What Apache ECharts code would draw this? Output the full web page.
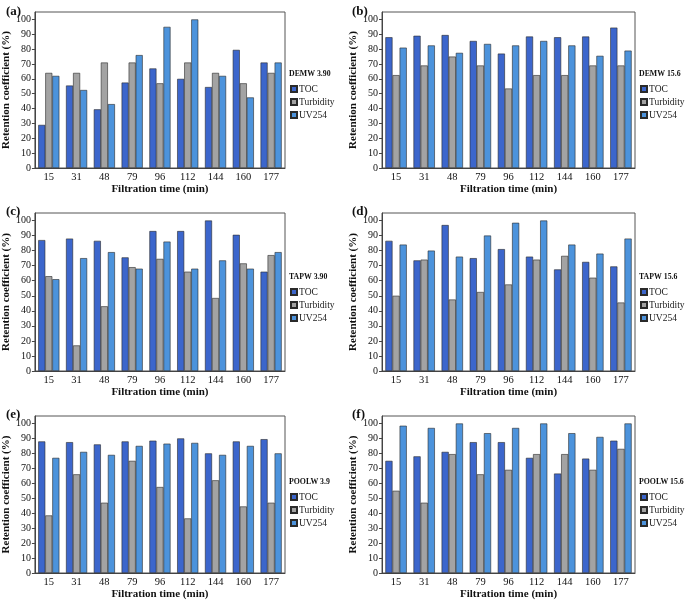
<!DOCTYPE html>
<html>
<head>
<meta charset="utf-8">
<title>Retention coefficient</title>
<script src="https://cdn.jsdelivr.net/npm/echarts@6/dist/echarts.min.js"></script>
<style>
  html, body { margin: 0; padding: 0; background: #fff; }
  #chart { width: 685px; height: 602px; }
</style>
</head>
<body>
<div id="chart"></div>
<script>
// filtration times (min)
var times = ['15', '31', '48', '79', '96', '112', '144', '160', '177'];
var yTicks = [0, 10, 20, 30, 40, 50, 60, 70, 80, 90, 100];

// (a) DEMW 3.90
var tocA  = [29, 55.5, 39.5, 57.5, 67, 60, 54.5, 79.5, 71];
var turbA = [64, 64, 71, 71, 57, 71, 64, 57, 64];
var uvA   = [62, 52.5, 43, 76, 95, 100, 62, 47.5, 71];
// (b) DEMW 15.6
var tocB  = [88, 89, 89.5, 85.5, 77, 88.5, 88, 88.5, 94.5];
var turbB = [62.5, 69, 75, 69, 53.5, 62.5, 62.5, 69, 69];
var uvB   = [81, 82.5, 77.5, 83.5, 82.5, 85.5, 82.5, 75.5, 79];
// (c) TAPW 3.90
var tocC  = [87, 88, 86.5, 75.5, 93, 93, 100, 90.5, 66];
var turbC = [63, 17, 43, 69, 74.5, 66, 48.5, 71.5, 77];
var uvC   = [61, 75, 79, 68, 86, 68, 73.5, 68, 79];
// (d) TAPW 15.6
var tocD  = [86.5, 73.5, 97, 75, 81, 76, 67.5, 72.5, 69.5];
var turbD = [50, 74, 47.5, 52.5, 57.5, 74, 76.5, 62, 45.5];
var uvD   = [84, 80, 76, 90, 98.5, 100, 84, 78, 88];
// (e) POOLW 3.9
var tocE  = [88, 87.5, 86, 88, 88.5, 90, 80, 88, 89.5];
var turbE = [38.5, 66, 47, 75, 57.5, 36.5, 62, 44.5, 47];
var uvE   = [77, 81, 79, 85, 86.5, 87, 79, 85, 80];
// (f) POOLW 15.6
var tocF  = [75, 78, 81, 87.5, 87.5, 77, 66.5, 76.5, 88.5];
var turbF = [55, 47, 79.5, 66, 69, 79.5, 79.5, 69, 83];
var uvF   = [98.5, 97, 100, 93.5, 97, 100, 93.5, 91, 100];

var seriesNames = ['TOC', 'Turbidity', 'UV254'];
var colors = ['#3c66cc', '#a3a3a3', '#4c93dc'];

var panels = [
  { tag: '(a)', label: 'DEMW 3.90',  data: [tocA, turbA, uvA] },
  { tag: '(b)', label: 'DEMW 15.6',  data: [tocB, turbB, uvB] },
  { tag: '(c)', label: 'TAPW 3.90',  data: [tocC, turbC, uvC] },
  { tag: '(d)', label: 'TAPW 15.6',  data: [tocD, turbD, uvD] },
  { tag: '(e)', label: 'POOLW 3.9',  data: [tocE, turbE, uvE] },
  { tag: '(f)', label: 'POOLW 15.6', data: [tocF, turbF, uvF] }
];

// layout
var colLeft = [32, 382];
var rowTop = [12, 213, 416];
var rowH = [156, 158, 157];
var plotW = 253;
var legendTitleY = [70, 273, 478];
var serif = 'Liberation Serif';

var option = {
  backgroundColor: '#fff',
  animation: false,
  title: [], grid: [], xAxis: [], yAxis: [], legend: [], series: []
};

panels.forEach(function (p, i) {
  var col = i % 2, row = Math.floor(i / 2);
  var left = colLeft[col], top = rowTop[row], h = rowH[row];

  option.grid.push({
    left: left, top: top, width: plotW, height: h,
    show: true, borderColor: '#555', borderWidth: 1, backgroundColor: '#fff'
  });
  option.xAxis.push({
    type: 'category', gridIndex: i, data: times,
    name: 'Filtration time (min)', nameLocation: 'middle', nameGap: 16,
    nameTextStyle: { fontFamily: serif, fontWeight: 'bold', fontSize: 11, color: '#111' },
    axisLine: { lineStyle: { color: '#444' } },
    axisTick: { length: 3, lineStyle: { color: '#444' } },
    axisLabel: { fontFamily: serif, fontSize: 10.5, color: '#111', margin: 4 }
  });
  option.yAxis.push({
    type: 'value', gridIndex: i, min: 0, max: 105,
    name: 'Retention coefficient (%)', nameLocation: 'middle', nameGap: col === 0 ? 20 : 19,
    nameTextStyle: { fontFamily: serif, fontWeight: 'bold', fontSize: 11, color: '#111' },
    splitLine: { show: false },
    axisLine: { show: true, lineStyle: { color: '#444' } },
    axisTick: { show: true, length: 3, customValues: yTicks, lineStyle: { color: '#444' } },
    axisLabel: { fontFamily: serif, fontSize: 10, color: '#111', margin: 4, customValues: yTicks }
  });
  option.title.push({
    text: p.tag, left: col === 0 ? 1 : 347, top: row === 0 ? 0 : rowTop[row] - 13,
    textStyle: { fontFamily: serif, fontWeight: 'bold', fontSize: 13, color: '#111' }
  });
  option.title.push({
    text: p.label, left: left + plotW + 4, top: legendTitleY[row], padding: 0,
    textStyle: { fontFamily: serif, fontWeight: 'bold', fontSize: 7.8, color: '#111' }
  });
  option.legend.push({
    data: seriesNames, orient: 'vertical',
    left: left + plotW, top: legendTitleY[row] + 9,
    icon: 'rect', itemWidth: 6, itemHeight: 6, itemGap: 3,
    textStyle: { fontFamily: serif, fontSize: 9.5, color: '#222', padding: [0, 0, 0, -3] }
  });
  seriesNames.forEach(function (name, k) {
    option.series.push({
      type: 'bar', name: name, xAxisIndex: i, yAxisIndex: i,
      data: p.data[k], barGap: '0%', barCategoryGap: '24%',
      itemStyle: { color: colors[k], borderColor: '#2a2a2a', borderWidth: 0.6 }
    });
  });
});

var myChart = echarts.init(document.getElementById('chart'), null, { renderer: 'canvas' });
myChart.setOption(option);
</script>
</body>
</html>
